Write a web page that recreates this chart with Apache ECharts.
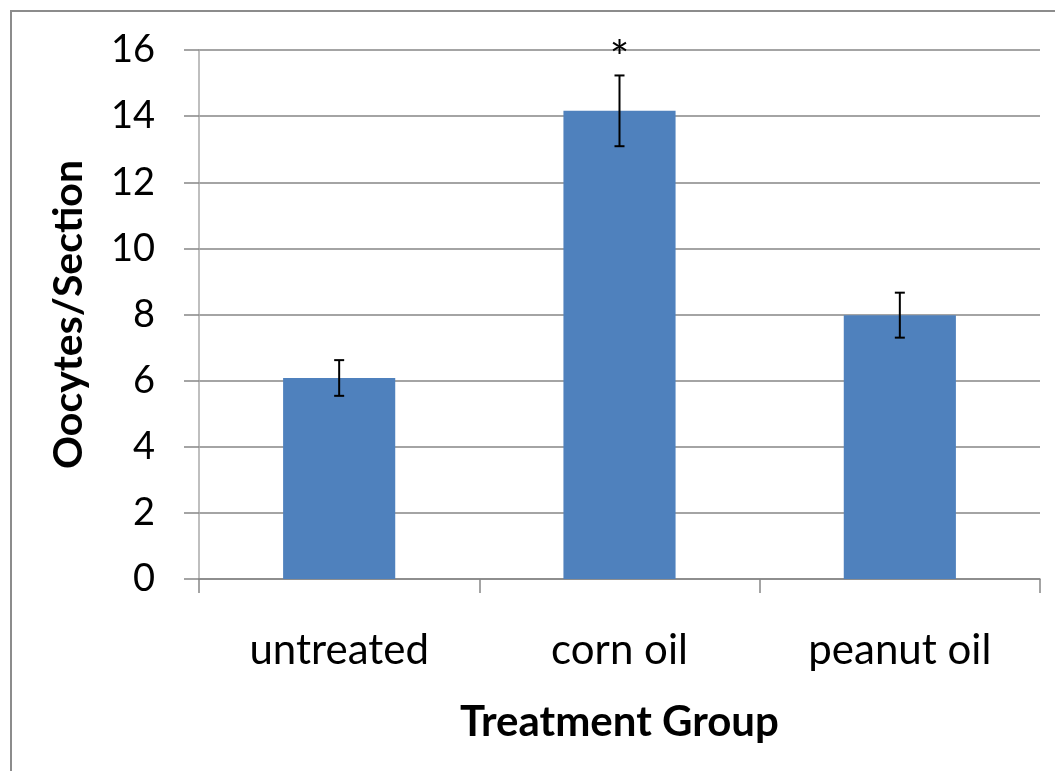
<!DOCTYPE html>
<html><head><meta charset="utf-8">
<script src="https://cdn.jsdelivr.net/npm/echarts@6/dist/echarts.min.js"></script>
<style>html,body{margin:0;padding:0;background:#fff}#c{width:1055px;height:771px}</style>
</head><body><div id="c"></div>
<script>
const categories = ['untreated', 'corn oil', 'peanut oil'];
const means = [6.08, 14.16, 7.98];
const errors = [0.54, 1.07, 0.68];
const marks = ['', '*', ''];
const yTicks = { min: 0, max: 16, interval: 2 };

const chart = echarts.init(document.getElementById('c'));
const font = 'Lato, "Open Sans", sans-serif';
const gray = '#868686';
chart.setOption({
  animation: false,
  backgroundColor: '#fff',
  graphic: [{ type: 'rect', shape: { x: 11, y: 11, width: 1100, height: 800 }, style: { fill: 'none', stroke: '#8c8c8c', lineWidth: 2 }, z: 100 }],
  grid: { left: 199, top: 50, right: 15, bottom: 192, containLabel: false },
  xAxis: {
    type: 'category', data: categories,
    name: 'Treatment Group', nameLocation: 'middle', nameGap: 122,
    nameTextStyle: { fontFamily: font, fontWeight: 'bold', fontSize: 42, color: '#000' },
    axisLine: { lineStyle: { color: gray, width: 1.5 } },
    axisTick: { show: true, length: 14, lineStyle: { color: gray, width: 1.5 } },
    axisLabel: { fontFamily: font, fontSize: 42, color: '#000', margin: 50 }
  },
  yAxis: {
    type: 'value', min: yTicks.min, max: yTicks.max, interval: yTicks.interval,
    name: 'Oocytes/Section', nameLocation: 'middle', nameGap: 110,
    nameTextStyle: { fontFamily: font, fontWeight: 'bold', fontSize: 41, color: '#000' },
    axisLine: { show: true, lineStyle: { color: '#aaa', width: 1.5 } },
    axisTick: { show: true, length: 15, lineStyle: { color: gray, width: 1.5 } },
    axisLabel: { fontFamily: font, fontSize: 38, color: '#000', margin: 44 },
    splitLine: { lineStyle: { color: gray, width: 1.5 } }
  },
  series: [
    { type: 'bar', data: means, barWidth: '40%', itemStyle: { color: '#4F81BD' }, z: 2 },
    {
      type: 'custom', z: 5,
      data: means.map((m, i) => [i, m, errors[i], marks[i]]),
      renderItem: function (params, api) {
        const x = api.value(0), m = api.value(1), e = api.value(2);
        const hi = api.coord([x, m + e]), lo = api.coord([x, m - e]);
        const cap = 5;
        const children = [
          { type: 'line', shape: { x1: hi[0], y1: hi[1], x2: lo[0], y2: lo[1] }, style: { stroke: '#000', lineWidth: 2 } },
          { type: 'line', shape: { x1: hi[0] - cap, y1: hi[1], x2: hi[0] + cap, y2: hi[1] }, style: { stroke: '#000', lineWidth: 2 } },
          { type: 'line', shape: { x1: lo[0] - cap, y1: lo[1], x2: lo[0] + cap, y2: lo[1] }, style: { stroke: '#000', lineWidth: 2 } }
        ];
        const mk = marks[params.dataIndex];
        if (mk) {
          children.push({ type: 'text', x: hi[0], y: hi[1] - 16, style: { text: mk, fill: '#000', font: '46px ' + font, align: 'center', verticalAlign: 'middle' } });
        }
        return { type: 'group', children };
      }
    }
  ]
});
</script></body></html>
